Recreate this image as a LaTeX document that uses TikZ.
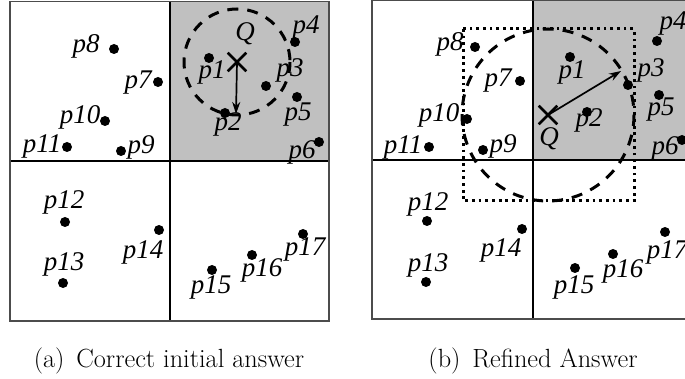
\documentclass[tikz,border=0pt]{standalone}
\usepackage{fontspec}
\newfontfamily\tms{Liberation Serif}
\usetikzlibrary{arrows.meta,shapes.misc}
\begin{document}
\begin{tikzpicture}[x=1pt,y=-1pt,
  dot/.style={circle,fill=black,inner sep=0pt,minimum size=10pt},
  lab/.style={inner sep=0pt,font=\tms\itshape\fontsize{27}{27}\selectfont},
  qmark/.style={cross out,draw,line width=2.6pt,minimum size=16pt,inner sep=0pt},
  circ/.style={line width=3pt,dash pattern=on 11pt off 9pt},
  dotbox/.style={line width=3pt,dash pattern=on 2.8pt off 3.9pt},
  arr/.style={line width=1.7pt,-{Stealth[length=12pt,width=8pt]}},
  outer/.style={draw=black!70,line width=1.8pt},
  inner/.style={draw=black,line width=1.1pt},
  gfill/.style={fill={rgb,255:red,192;green,192;blue,192}},
  captext/.style={inner sep=0pt,font=\fontsize{26.3}{30}\selectfont}]
\useasboundingbox (0,0) rectangle (685,379);
\clip (0,0) rectangle (685,379);
% ---------- panel (a) ----------
\fill[gfill] (170,1.5) rectangle (329,161);
\draw[inner] (170,1.5) -- (170,321);
\draw[inner] (10,161) -- (329,161);
\draw[outer] (10,1.5) rectangle (329,321);
\node[qmark] (aQ) at (237,62) {};
\draw[circ] (aQ.center) circle (53);
\coordinate (aTip) at (236,114);
\draw[arr] (aQ.center) -- (aTip);
\node[lab] (aQl) at (245,34) {Q};
\node[dot] (a1) at (209,58) {};   \node[lab] (a1l) at (212,72) {p1};
\node[dot] (a2) at (225,113) {};  \node[lab] (a2l) at (228,124) {p2};
\node[dot] (a3) at (266,86) {};   \node[lab] (a3l) at (290,70) {p3};
\node[dot] (a4) at (295,42) {};   \node[lab] (a4l) at (306,27) {p4};
\node[dot] (a5) at (297,97) {};   \node[lab] (a5l) at (298,115) {p5};
\node[dot] (a6) at (319,142) {};  \node[lab] (a6l) at (302,152) {p6};
\node[dot] (a7) at (158,82) {};   \node[lab] (a7l) at (138,83) {p7};
\node[dot] (a8) at (114,49) {};   \node[lab] (a8l) at (86,46.5) {p8};
\node[dot] (a9) at (121,151) {};  \node[lab] (a9l) at (141,147) {p9};
\node[dot] (a10) at (105,121) {}; \node[lab] (a10l) at (80,117) {p10};
\node[dot] (a11) at (67,147) {};  \node[lab] (a11l) at (42,146) {p11};
\node[dot] (a12) at (65,222) {};  \node[lab] (a12l) at (64,202) {p12};
\node[dot] (a13) at (63,283) {};  \node[lab] (a13l) at (64,264) {p13};
\node[dot] (a14) at (159,230) {}; \node[lab] (a14l) at (143,252) {p14};
\node[dot] (a15) at (212,270) {}; \node[lab] (a15l) at (211,287) {p15};
\node[dot] (a16) at (252,255) {}; \node[lab] (a16l) at (262,270) {p16};
\node[dot] (a17) at (303,234) {}; \node[lab] (a17l) at (305,249) {p17};
\node[captext] (capa) at (169,361) {(a)\hspace{0.45em}Correct initial answer};
% ---------- panel (b) ----------
\fill[gfill] (533,0.5) rectangle (694,160);
\draw[inner] (533,0.5) -- (533,319);
\draw[inner] (372,160) -- (694,160);
\draw[outer] (372,0.5) rectangle (694,319);
\node[qmark] (bQ) at (548,115) {};
\draw[circ] (bQ.center) circle (86);
\draw[dotbox] (463,29) rectangle (634,201);
\coordinate (bTip) at (621,71);
\draw[arr] (bQ.center) -- (bTip);
\node[lab] (bQl) at (549,139) {Q};
\node[dot] (b1) at (570,57) {};   \node[lab] (b1l) at (572,72) {p1};
\node[dot] (b2) at (587,112) {};  \node[lab] (b2l) at (589,120) {p2};
\node[dot] (b3) at (628,85) {};   \node[lab] (b3l) at (651,70) {p3};
\node[dot] (b4) at (657,41) {};   \node[lab] (b4l) at (673,23) {p4};
\node[dot] (b5) at (659,95) {};   \node[lab] (b5l) at (661,110) {p5};
\node[dot] (b6) at (682,140) {};  \node[lab] (b6l) at (665,148) {p6};
\node[dot] (b7) at (520,81) {};   \node[lab] (b7l) at (498,81) {p7};
\node[dot] (b8) at (475,47) {};   \node[lab] (b8l) at (450,44) {p8};
\node[dot] (b9) at (483,150) {};  \node[lab] (b9l) at (503,146) {p9};
\node[dot] (b10) at (467,119) {}; \node[lab] (b10l) at (439,115) {p10};
\node[dot] (b11) at (429,147) {}; \node[lab] (b11l) at (403,147) {p11};
\node[dot] (b12) at (427,221) {}; \node[lab] (b12l) at (428,204) {p12};
\node[dot] (b13) at (426,282) {}; \node[lab] (b13l) at (428,265) {p13};
\node[dot] (b14) at (522,229) {}; \node[lab] (b14l) at (501,250) {p14};
\node[dot] (b15) at (575,268) {}; \node[lab] (b15l) at (574,287) {p15};
\node[dot] (b16) at (613,254) {}; \node[lab] (b16l) at (623,271) {p16};
\node[dot] (b17) at (665,232) {}; \node[lab] (b17l) at (667,252) {p17};
\node[captext] (capb) at (533,361) {(b)\hspace{0.45em}Refined Answer};
\end{tikzpicture}
\end{document}
